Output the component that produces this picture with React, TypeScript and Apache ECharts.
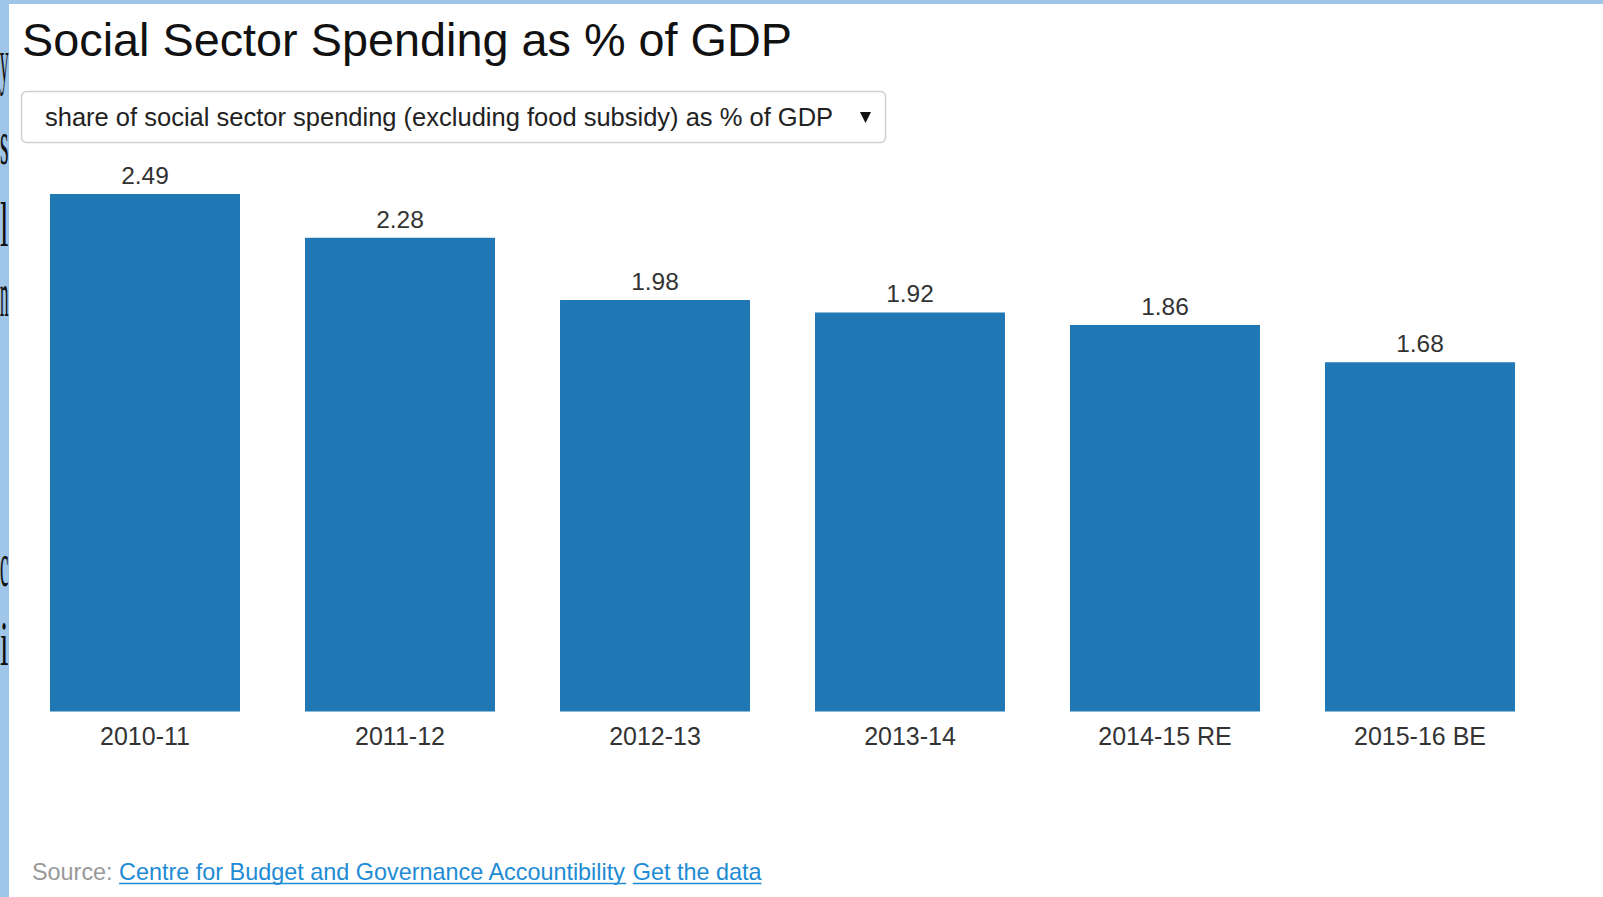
import React, { useEffect, useRef } from "react";
import * as echarts from "echarts";

const categories = ["2010-11", "2011-12", "2012-13", "2013-14", "2014-15 RE", "2015-16 BE"];
const values = [2.49, 2.28, 1.98, 1.92, 1.86, 1.68];
const titleText = "Social Sector Spending as % of GDP";
const dropdownText = "share of social sector spending (excluding food subsidy) as % of GDP";
const sourceLabel = "Source:";
const sourceLinks = ["Centre for Budget and Governance Accountibility", "Get the data"];
const edgeLetters = ["y", "s", "l", "n", "c", "i"];
const edgeBaselines = [92, 174, 256, 326, 596, 675];

const W = 1603;
const H = 897;
const SANS = "'Liberation Sans', Arial, Helvetica, sans-serif";
const SERIF = "'Liberation Serif', 'Times New Roman', serif";
const BAR = "#1f77b4";
const LINK = "#1e8bd4";
const EDGE = "#9fc5e8";

export default function App() {
  const ref = useRef<HTMLDivElement>(null);
  useEffect(() => {
    document.body.style.margin = "0";
    const chart = echarts.init(ref.current as HTMLDivElement, null, { renderer: "svg", width: W, height: H });
    const ctx = document.createElement("canvas").getContext("2d") as CanvasRenderingContext2D;
    const measure = (t: string, size: number, fam: string = SANS) => {
      ctx.font = `${size}px ${fam}`;
      return ctx.measureText(t).width;
    };

    const srcSize = 23.4;
    const srcX = 32;
    const srcY = 872;
    const spaceW = measure(" ", srcSize);
    let cx = srcX + measure(sourceLabel, srcSize) + spaceW;
    const linkEls: any[] = [];
    sourceLinks.forEach((t) => {
      const w = measure(t, srcSize);
      linkEls.push({
        type: "text",
        x: cx,
        y: srcY,
        z: 5,
        style: { text: t, font: `${srcSize}px ${SANS}`, fill: LINK, verticalAlign: "middle" },
      });
      linkEls.push({
        type: "line",
        z: 5,
        shape: { x1: cx, y1: srcY + 11.5, x2: cx + w, y2: srcY + 11.5 },
        style: { stroke: LINK, lineWidth: 1.3 },
      });
      cx += w + spaceW;
    });

    const letterSize = 64;
    const letterEls = edgeLetters.map((ch, i) => {
      const w = measure(ch, letterSize, SERIF);
      return {
        type: "text",
        x: 8.5,
        y: edgeBaselines[i],
        z: 1,
        scaleX: Math.min(1, 8.5 / w),
        style: { text: ch, font: `${letterSize}px ${SERIF}`, fill: "#111", align: "right", verticalAlign: "bottom" },
      };
    });

    const option: any = {
      animation: false,
      backgroundColor: "#ffffff",
      grid: { left: 17.5, width: 1530, top: 194, bottom: 185.5, containLabel: false },
      xAxis: {
        type: "category",
        data: categories,
        z: 10,
        axisLine: { show: false },
        axisTick: { show: false },
        splitLine: { show: false },
        axisLabel: { fontSize: 25, color: "#333", fontFamily: SANS, margin: 12, interval: 0 },
      },
      yAxis: {
        type: "value",
        min: 0,
        max: 2.49,
        show: false,
        splitLine: { show: false },
      },
      series: [
        {
          type: "bar",
          data: values,
          z: 10,
          barCategoryGap: "25.5%",
          itemStyle: { color: BAR },
          label: {
            show: true,
            position: "top",
            distance: 6,
            fontSize: 24.5,
            color: "#333",
            fontFamily: SANS,
            formatter: (p: any) => p.value.toFixed(2),
          },
        },
      ],
      graphic: [
        { type: "rect", z: 0, shape: { x: 0, y: 0, width: W, height: H }, style: { fill: EDGE } },
        ...letterEls,
        { type: "rect", z: 2, shape: { x: 9, y: 4, width: W - 9, height: H - 4 }, style: { fill: "#ffffff" } },
        {
          type: "text",
          x: 22,
          y: 40,
          z: 5,
          style: { text: titleText, font: `46.8px ${SANS}`, fill: "#111", verticalAlign: "middle" },
        },
        {
          type: "rect",
          z: 3,
          shape: { x: 21.5, y: 91.5, width: 864, height: 51, r: 5 },
          style: { fill: "#fff", stroke: "#cfcfcf", lineWidth: 1.5 },
        },
        {
          type: "text",
          x: 45,
          y: 117,
          z: 5,
          style: { text: dropdownText, font: `25.5px ${SANS}`, fill: "#222", verticalAlign: "middle" },
        },
        {
          type: "polygon",
          z: 5,
          shape: { points: [[860, 112], [871, 112], [865.5, 123]] },
          style: { fill: "#111" },
        },
        {
          type: "text",
          x: srcX,
          y: srcY,
          z: 5,
          style: { text: sourceLabel, font: `${srcSize}px ${SANS}`, fill: "#999", verticalAlign: "middle" },
        },
        ...linkEls,
      ],
    };
    chart.setOption(option);
    return () => chart.dispose();
  }, []);
  return <div ref={ref} style={{ position: "absolute", left: 0, top: 0, width: W, height: H }} />;
}
